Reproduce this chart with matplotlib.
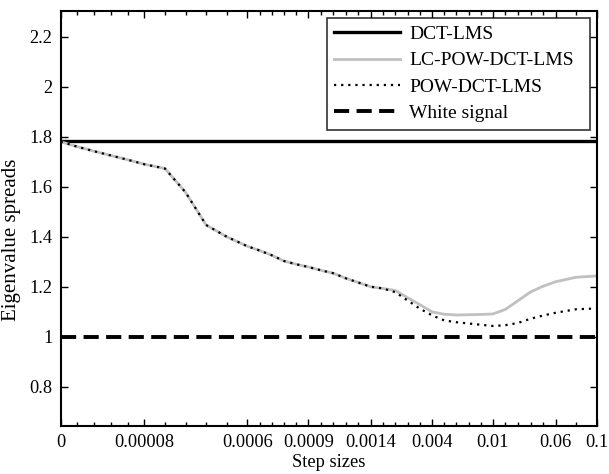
import numpy as np
import matplotlib
matplotlib.use("Agg")
import matplotlib.pyplot as plt

plt.rcParams['font.family'] = ['Liberation Serif', 'DejaVu Serif']

# ---- data ----
tick_labels = ["0", "0.00008", "0.0006", "0.0009", "0.0014", "0.004", "0.01", "0.06", "0.1"]
# sub-intervals between consecutive labelled step sizes (samples lie on minor ticks)
subdivisions = [5, 5, 5, 5, 5, 5, 5, 2]

dct_lms = 1.783
white_signal = 1.0

lc_pow_dct_lms = [1.780, 1.760, 1.742, 1.725, 1.708, 1.690,
                  1.673, 1.578, 1.447, 1.400, 1.362,
                  1.345, 1.326, 1.303, 1.290, 1.279,
                  1.266, 1.254, 1.234, 1.217, 1.200,
                  1.193, 1.185, 1.156, 1.128, 1.099,
                  1.090, 1.087, 1.088, 1.089, 1.091,
                  1.109, 1.144, 1.179, 1.202, 1.220,
                  1.238, 1.243]
pow_dct_lms = [1.780, 1.760, 1.742, 1.725, 1.708, 1.690,
               1.673, 1.578, 1.447, 1.400, 1.362,
               1.345, 1.326, 1.303, 1.290, 1.279,
               1.266, 1.254, 1.234, 1.217, 1.200,
               1.193, 1.178, 1.145, 1.112, 1.085,
               1.065, 1.058, 1.053, 1.048, 1.043,
               1.046, 1.055, 1.072, 1.085, 1.096,
               1.110, 1.113]

# ---- axis layout (non-uniform label spacing of the original axis) ----
major_pos = np.array([0, 83.6, 186.6, 247.6, 310.0, 371.6, 432.0, 495.0, 536.0])
grid = [major_pos[0]]
for a, b, n in zip(major_pos[:-1], major_pos[1:], subdivisions):
    grid.extend(np.linspace(a, b, n + 1)[1:])
grid = np.array(grid)
minor_pos = np.setdiff1d(grid, major_pos)

FS = 13.2

fig = plt.figure(figsize=(6.09, 4.74), dpi=100)
ax = fig.add_axes([0.0997, 0.1013, 0.8801, 0.8755])

ax.axhline(dct_lms, color='black', lw=2.4, label='DCT-LMS')
ax.plot(grid, lc_pow_dct_lms, color='#c0c0c0', lw=2.0, label='LC-POW-DCT-LMS')
ax.plot(grid, pow_dct_lms, color='black', lw=1.6, linestyle=(0, (1, 2.2)), label='POW-DCT-LMS')
ax.axhline(white_signal, color='black', lw=2.8, linestyle=(0, (3.9, 1.9)), label='White signal')

ax.set_xlim(major_pos[0], major_pos[-1])
ax.set_ylim(0.643, 2.303)
ax.set_xticks(major_pos)
ax.set_xticklabels(tick_labels)
ax.set_xticks(minor_pos, minor=True)
ax.set_yticks([0.8, 1.0, 1.2, 1.4, 1.6, 1.8, 2.0, 2.2])
ax.set_yticklabels(["0.8", "1", "1.2", "1.4", "1.6", "1.8", "2", "2.2"])

ax.tick_params(which='both', direction='in', top=True, right=True, labelsize=FS, width=1.0)
ax.tick_params(which='major', length=5, pad=6)
ax.tick_params(which='minor', length=3)
for s in ax.spines.values():
    s.set_linewidth(1.5)

ax.set_xlabel('Step sizes', fontsize=FS, labelpad=2)
ax.set_ylabel('Eigenvalue spreads', fontsize=15)
ax.yaxis.set_label_coords(-0.074, 0.448)

leg = ax.legend(loc='upper left', bbox_to_anchor=(0.497, 0.5, 0.4905, 0.483),
                mode='expand', fontsize=14,
                handlelength=3.35, frameon=True, fancybox=False, borderaxespad=0,
                labelspacing=0.45, handletextpad=0.5, borderpad=0.38)
leg.get_frame().set_edgecolor('black')
leg.get_frame().set_linewidth(1.2)

fig.savefig('out.png', dpi=100)
